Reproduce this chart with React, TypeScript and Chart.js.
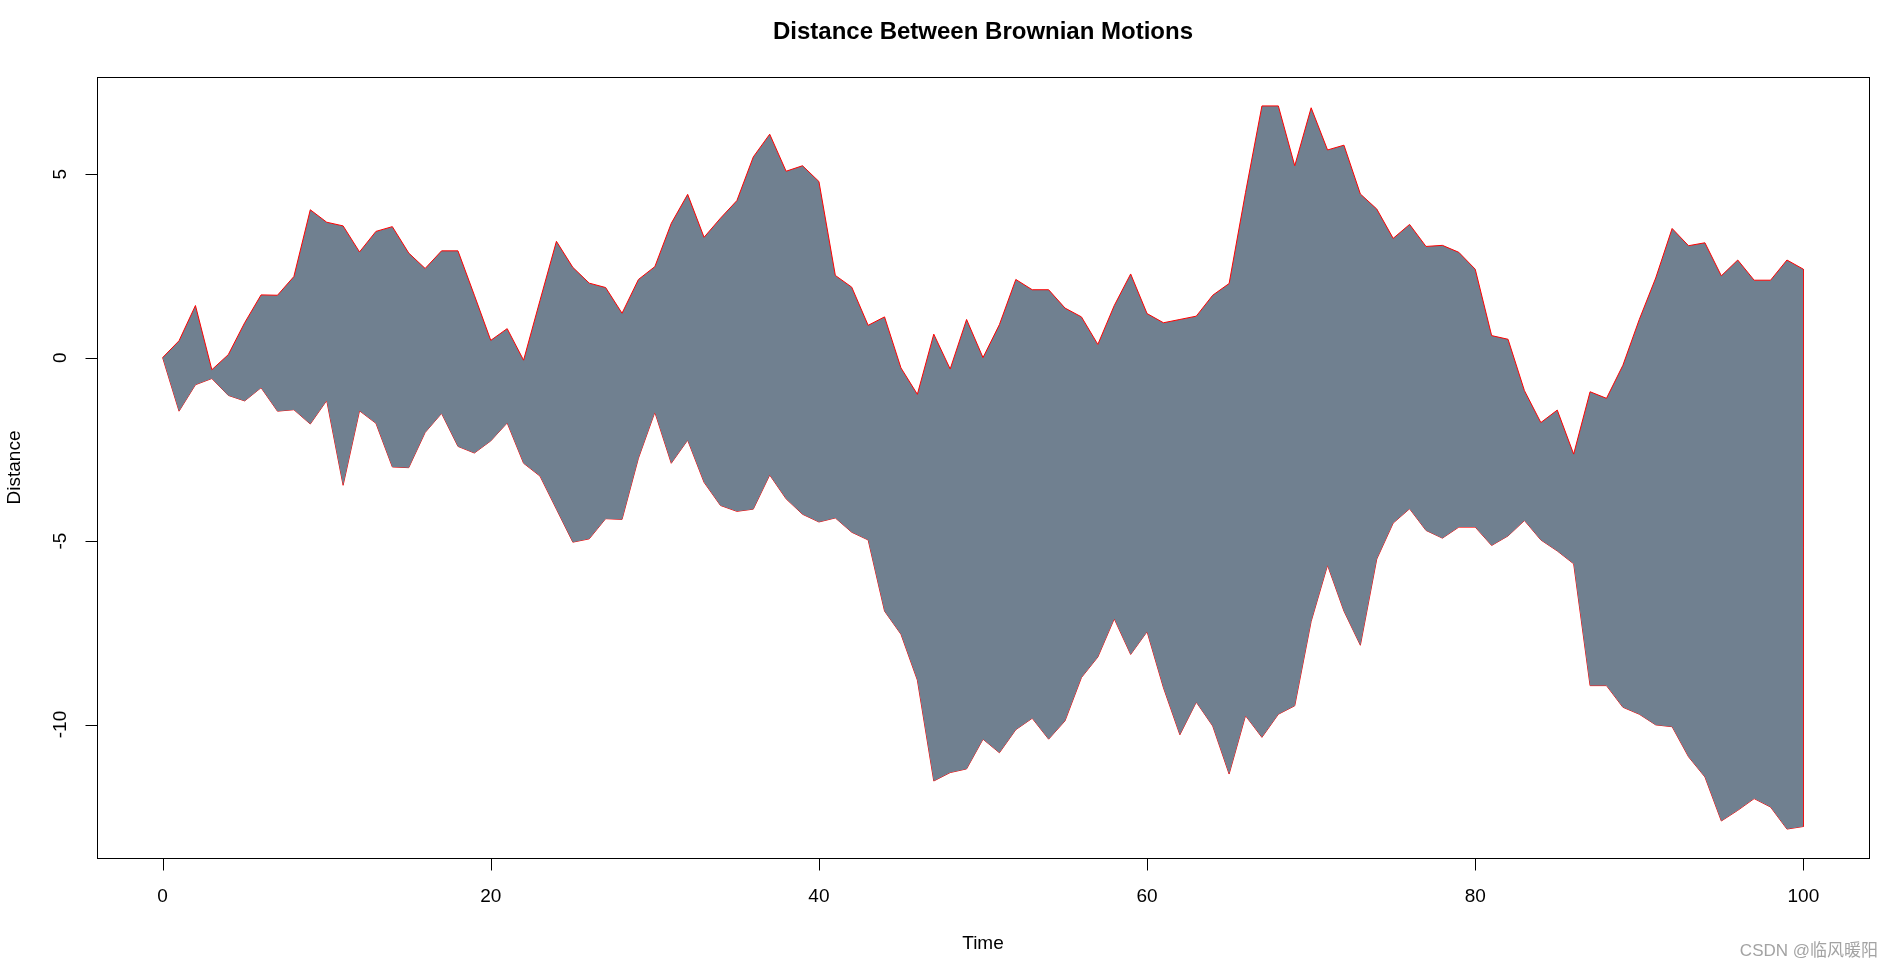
import React, { useEffect, useRef } from "react";
import { Chart, registerables } from "chart.js";

Chart.register(...registerables);

const TITLE = "Distance Between Brownian Motions";
const X_LABEL = "Time";
const Y_LABEL = "Distance";
const WATERMARK = "CSDN @临风暖阳";

const TIME: number[] = Array.from({ length: 101 }, (_, i) => i);

const UPPER: number[] = [
  0, 0.46, 1.42, -0.33, 0.08, 0.95, 1.71, 1.7, 2.21, 4.03,
  3.69, 3.59, 2.88, 3.44, 3.57, 2.85, 2.43, 2.91, 2.91, 1.7,
  0.47, 0.79, -0.07, 1.56, 3.17, 2.46, 2.03, 1.91, 1.21, 2.13,
  2.48, 3.66, 4.45, 3.28, 3.8, 4.28, 5.47, 6.09, 5.08, 5.23,
  4.8, 2.24, 1.92, 0.88, 1.11, -0.28, -1.0, 0.64, -0.31, 1.04,
  0.0, 0.9, 2.13, 1.85, 1.85, 1.35, 1.11, 0.36, 1.42, 2.28,
  1.2, 0.95, 1.04, 1.13, 1.7, 2.02, 4.5, 6.86, 6.86, 5.23,
  6.81, 5.66, 5.79, 4.46, 4.05, 3.25, 3.63, 3.03, 3.06, 2.87,
  2.41, 0.6, 0.5, -0.9, -1.77, -1.43, -2.63, -0.93, -1.11, -0.21,
  1.04, 2.17, 3.52, 3.05, 3.13, 2.23, 2.66, 2.11, 2.11, 2.66,
  2.41,
];

const LOWER: number[] = [
  0, -1.46, -0.74, -0.57, -1.03, -1.18, -0.82, -1.46, -1.42, -1.81,
  -1.17, -3.48, -1.45, -1.79, -2.98, -3.0, -2.04, -1.52, -2.42, -2.6,
  -2.27, -1.78, -2.88, -3.23, -4.13, -5.03, -4.94, -4.39, -4.41, -2.74,
  -1.49, -2.88, -2.25, -3.4, -4.03, -4.19, -4.13, -3.2, -3.85, -4.27,
  -4.48, -4.37, -4.76, -4.97, -6.91, -7.54, -8.79, -11.54, -11.31, -11.21,
  -10.4, -10.77, -10.14, -9.83, -10.4, -9.9, -8.72, -8.16, -7.12, -8.09,
  -7.47, -9.0, -10.28, -9.39, -10.04, -11.35, -9.76, -10.35, -9.72, -9.49,
  -7.19, -5.66, -6.91, -7.84, -5.49, -4.51, -4.12, -4.71, -4.92, -4.62,
  -4.62, -5.12, -4.86, -4.44, -4.97, -5.27, -5.62, -8.94, -8.94, -9.53,
  -9.72, -10.01, -10.06, -10.88, -11.43, -12.63, -12.34, -12.02, -12.25, -12.85,
  -12.78,
];

const X_TICKS: number[] = [0, 20, 40, 60, 80, 100];
const Y_TICKS: number[] = [-10, -5, 0, 5];

const FONT = "'Liberation Sans', Arial, Helvetica, sans-serif";

function rExtend(vals: number[]): [number, number] {
  const mn = Math.min(...vals);
  const mx = Math.max(...vals);
  const r = mx - mn;
  return [mn - 0.04 * r, mx + 0.04 * r];
}

export default function App() {
  const ref = useRef<HTMLCanvasElement | null>(null);

  useEffect(() => {
    const canvas = ref.current;
    if (!canvas) return;
    const [xMin, xMax] = rExtend(TIME);
    const [yMin, yMax] = rExtend([...UPPER, ...LOWER]);
    const last = TIME.length - 1;

    const rAxes = {
      id: "rAxes",
      afterDraw(chart: any) {
        const ctx = chart.ctx as CanvasRenderingContext2D;
        const a = chart.chartArea;
        const xs = chart.scales.x;
        const ys = chart.scales.y;
        ctx.save();
        ctx.strokeStyle = "#000";
        ctx.lineWidth = 1;
        ctx.strokeRect(Math.round(a.left) + 0.5, Math.round(a.top) + 0.5, Math.round(a.right - a.left), Math.round(a.bottom - a.top));
        const tick = 12;
        const xb = Math.round(a.bottom) + 0.5;
        ctx.beginPath();
        for (const v of X_TICKS) {
          const px = Math.round(xs.getPixelForValue(v)) + 0.5;
          ctx.moveTo(px, xb);
          ctx.lineTo(px, xb + tick);
        }
        const yl = Math.round(a.left) + 0.5;
        for (const v of Y_TICKS) {
          const py = Math.round(ys.getPixelForValue(v)) + 0.5;
          ctx.moveTo(yl, py);
          ctx.lineTo(yl - tick, py);
        }
        ctx.stroke();

        ctx.fillStyle = "#000";
        ctx.font = `19px ${FONT}`;
        ctx.textAlign = "center";
        ctx.textBaseline = "middle";
        for (const v of X_TICKS) {
          ctx.fillText(String(v), xs.getPixelForValue(v), 897);
        }
        for (const v of Y_TICKS) {
          ctx.save();
          ctx.translate(61, ys.getPixelForValue(v));
          ctx.rotate(-Math.PI / 2);
          ctx.fillText(String(v), 0, 0);
          ctx.restore();
        }
        ctx.fillText(X_LABEL, (a.left + a.right) / 2, 944);
        ctx.save();
        ctx.translate(15, (a.top + a.bottom) / 2);
        ctx.rotate(-Math.PI / 2);
        ctx.fillText(Y_LABEL, 0, 0);
        ctx.restore();
        ctx.font = `bold 24px ${FONT}`;
        ctx.fillText(TITLE, (a.left + a.right) / 2, 32);
        ctx.font = `17px ${FONT}, 'Noto Sans CJK SC'`;
        ctx.fillStyle = "#a3a3a3";
        ctx.textAlign = "right";
        ctx.fillText(WATERMARK, 1878, 951);
        ctx.restore();
      },
    };

    const chart = new Chart(canvas, {
      type: "line",
      data: {
        datasets: [
          {
            data: TIME.map((t, i) => ({ x: t, y: UPPER[i] })),
            borderColor: "#ff0000",
            borderWidth: 1,
            backgroundColor: "#708090",
            fill: "+1",
            pointRadius: 0,
            tension: 0,
          },
          {
            data: TIME.map((t, i) => ({ x: t, y: LOWER[i] })),
            borderColor: "#ff0000",
            borderWidth: 1,
            backgroundColor: "#708090",
            fill: false,
            pointRadius: 0,
            tension: 0,
          },
          {
            data: [
              { x: TIME[last], y: UPPER[last] },
              { x: TIME[last], y: LOWER[last] },
            ],
            borderColor: "#ff0000",
            borderWidth: 1,
            fill: false,
            pointRadius: 0,
            tension: 0,
          },
        ],
      },
      options: {
        animation: false,
        responsive: false,
        devicePixelRatio: 1,
        layout: { padding: { left: 97, top: 77, right: 24, bottom: 111 } },
        plugins: {
          legend: { display: false },
          tooltip: { enabled: false },
          title: { display: false },
        },
        scales: {
          x: { type: "linear", min: xMin, max: xMax, display: false },
          y: { type: "linear", min: yMin, max: yMax, display: false },
        },
      },
      plugins: [rAxes],
    });
    return () => chart.destroy();
  }, []);

  return (
    <div style={{ position: "fixed", left: 0, top: 0, width: 1893, height: 969, background: "#fff" }}>
      <canvas ref={ref} width={1893} height={969} style={{ display: "block" }} />
    </div>
  );
}
